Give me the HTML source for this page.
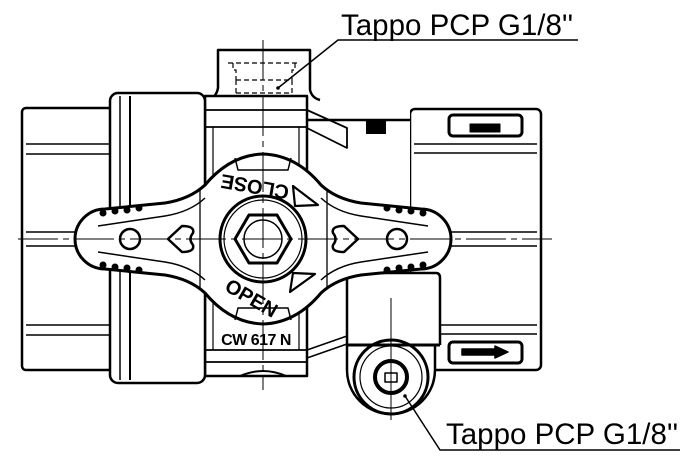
<!DOCTYPE html>
<html><head><meta charset="utf-8"><style>
html,body{margin:0;padding:0;background:#fff;}
svg{display:block;}
text{font-family:"Liberation Sans",sans-serif;}
</style></head><body>
<svg width="685" height="466" viewBox="0 0 685 466" xmlns="http://www.w3.org/2000/svg">
<g fill="none" stroke="#000" stroke-width="2.5" stroke-linejoin="round">
<!-- left end cap -->
<rect x="22" y="108" width="90" height="262" rx="4" fill="#fff"/>
<line x1="26" y1="144" x2="110" y2="144" stroke-width="1.5"/>
<line x1="26" y1="154" x2="110" y2="154" stroke-width="1.5"/>
<line x1="26" y1="325" x2="110" y2="325" stroke-width="1.5"/>
<line x1="26" y1="335" x2="110" y2="335" stroke-width="1.5"/>
<line x1="26" y1="232" x2="80" y2="232" stroke-width="1.5"/>
<line x1="26" y1="246" x2="80" y2="246" stroke-width="1.5"/>
<!-- right end cap -->
<rect x="410" y="109" width="131" height="261" rx="5" fill="#fff"/>
<line x1="414" y1="144" x2="537" y2="144" stroke-width="1.5"/>
<line x1="414" y1="153" x2="537" y2="153" stroke-width="1.5"/>
<line x1="414" y1="325" x2="537" y2="325" stroke-width="1.5"/>
<line x1="414" y1="334" x2="537" y2="334" stroke-width="1.5"/>
<line x1="445" y1="232" x2="537" y2="232" stroke-width="1.5"/>
<line x1="445" y1="246" x2="537" y2="246" stroke-width="1.5"/>
<rect x="449" y="115" width="73" height="21" rx="4" stroke-width="3"/>
<rect x="470" y="124" width="30" height="8" fill="#000" stroke-width="1"/>
<rect x="449" y="342" width="73" height="21" rx="4" stroke-width="3"/>
<path d="M462 349 H495 V346 L508 352 L495 358 V355 H462 Z" stroke-width="1.5" fill="#000"/>
<!-- middle body -->
<rect x="205" y="108" width="205" height="268" fill="#fff" stroke="none"/>
<line x1="307" y1="120" x2="410" y2="120"/>
<line x1="347" y1="370" x2="410" y2="370"/>
<path d="M307 110 L347 128 L347 148 L307 128" stroke-width="1.8"/>
<rect x="366" y="120" width="20" height="14" fill="#000" stroke="none"/>
<path d="M307 350 L347 336 M307 358 L347 344" stroke-width="1.5"/>
<!-- top boss -->
<path d="M208 100 Q216 98 218 88 L218 50 L310 50 L310 90 Q312 98 320 100" fill="#fff"/>
<path d="M228 63 H300 M233 63 V70 H236 V80 M295 63 V70 H292 V80 M236 80 H292 M236 93 H292 M236 80 V93 M292 80 V93" stroke-width="1.2" stroke-dasharray="5 3"/>
<!-- center body -->
<rect x="205" y="96" width="102" height="280" fill="#fff"/>
<line x1="205" y1="110" x2="307" y2="110" stroke-width="1.8"/>
<line x1="205" y1="127" x2="307" y2="127" stroke-width="1.8"/>
<line x1="205" y1="350" x2="307" y2="350" stroke-width="1.8"/>
<line x1="205" y1="362" x2="307" y2="362" stroke-width="1.8"/>
<line x1="213" y1="127" x2="213" y2="350" stroke-width="1.2"/>
<line x1="299" y1="127" x2="299" y2="350" stroke-width="1.2"/>
<path d="M240 376 Q263 366 286 376" stroke-width="2"/>
<!-- nut band -->
<rect x="110" y="93" width="95" height="290" rx="8" fill="#fff"/>
<line x1="120" y1="96" x2="120" y2="380" stroke-width="1.5"/>
<line x1="130" y1="96" x2="130" y2="380" stroke-width="2"/>
<!-- bottom boss -->
<path d="M347 345 L347 278 Q347 273 352 273 L436 273 Q440 273 440 278 L440 345" fill="#fff"/>
<path d="M347 345 L347 370 A44 44 0 0 0 435 370 L435 345 Z" fill="#fff"/>
<line x1="347" y1="345" x2="440" y2="345" stroke-width="3"/>
<circle cx="391" cy="377" r="37" stroke-width="3"/>
<circle cx="391" cy="377" r="31" stroke-width="1.2"/>
<circle cx="391" cy="377" r="16" stroke-width="4"/>
<rect x="385" y="373" width="12" height="9" stroke-width="1.5"/>
<line x1="391" y1="298" x2="391" y2="420" stroke-width="1"/>
<!-- handle -->
<path d="M105 209 L165 203 Q190 199 205 185 Q230 155 263 154 Q296 155 321 185 Q336 199 361 203 L421 209 A30 30 0 0 1 421 269 L361 275 Q336 279 321 293 Q296 323 263 324 Q230 323 205 293 Q190 279 165 275 L105 269 A30 30 0 0 1 105 209 Z" fill="#fff" stroke-width="3"/>
<path d="M98 226 L165 216 Q190 212 205 198 M98 252 L165 262 Q190 266 205 280 M428 226 L361 216 Q336 212 321 198 M428 252 L361 262 Q336 266 321 280" stroke-width="1.5"/>
<line x1="200" y1="190" x2="200" y2="288" stroke-width="1.3"/>
<line x1="327" y1="190" x2="327" y2="288" stroke-width="1.3"/>
<path d="M235 158 L238 170 H288 L291 158 M235 320 L238 308 H288 L291 320" stroke-width="1.5"/>
<circle cx="130" cy="239" r="10"/>
<circle cx="397" cy="239" r="10"/>
<path d="M168 239 L182 226 Q195 226 193 233 Q188 239 193 245 Q195 252 182 252 Z" stroke-width="2.5"/>
<path d="M358 239 L344 226 Q331 226 333 233 Q338 239 333 245 Q331 252 344 252 Z" stroke-width="2.5"/>
<circle cx="263" cy="239" r="43" stroke-width="3"/>
<circle cx="263" cy="239" r="39" stroke-width="1.2"/>
<polygon points="291,239 277,263 249,263 235,239 249,215 277,215" stroke-width="3"/>
<circle cx="263" cy="239" r="19" stroke-width="1.5"/>
<path d="M293 186 L318 205 L295 206 Z M290 292 L315 274 L293 273 Z" stroke-width="2.2"/>
</g>
<!-- grip dots -->
<g fill="#000">
<circle cx="103" cy="213" r="3.5"/><circle cx="115" cy="211" r="3.5"/><circle cx="127" cy="210" r="3.5"/><circle cx="139" cy="208" r="3.5"/>
<circle cx="103" cy="265" r="3.5"/><circle cx="115" cy="267" r="3.5"/><circle cx="127" cy="268" r="3.5"/><circle cx="139" cy="270" r="3.5"/>
<circle cx="387" cy="208" r="3.5"/><circle cx="399" cy="210" r="3.5"/><circle cx="411" cy="211" r="3.5"/><circle cx="423" cy="213" r="3.5"/>
<circle cx="387" cy="270" r="3.5"/><circle cx="399" cy="268" r="3.5"/><circle cx="411" cy="267" r="3.5"/><circle cx="423" cy="265" r="3.5"/>
</g>
<!-- handle text -->
<text x="0" y="0" font-size="20" font-weight="bold" text-anchor="middle" transform="translate(256,180) rotate(190)">CLOSE</text>
<text x="0" y="0" font-size="20" font-weight="bold" text-anchor="middle" transform="translate(248,304) rotate(30)">OPEN</text>
<text x="256" y="345" font-size="16" font-weight="bold" text-anchor="middle" letter-spacing="-0.5">CW 617 N</text>
<!-- center lines -->
<g stroke="#000" stroke-width="1" fill="none">
<line x1="18" y1="239" x2="552" y2="239" stroke-dasharray="40 5 6 5"/>
<line x1="263" y1="40" x2="263" y2="390" stroke-dasharray="40 5 6 5"/>
</g>
<!-- leaders -->
<g stroke="#000" stroke-width="1.5" fill="none">
<polyline points="278,88 338,40 578,40"/>
<polyline points="405,396 440,450 680,450"/>
</g>
<circle cx="278" cy="88" r="1.8" fill="#000"/>
<circle cx="405" cy="396" r="1.8" fill="#000"/>
<text x="341" y="35" font-size="29.5">Tappo PCP G1/8''</text>
<text x="446" y="444" font-size="29.5">Tappo PCP G1/8''</text>
</svg>
</body></html>
